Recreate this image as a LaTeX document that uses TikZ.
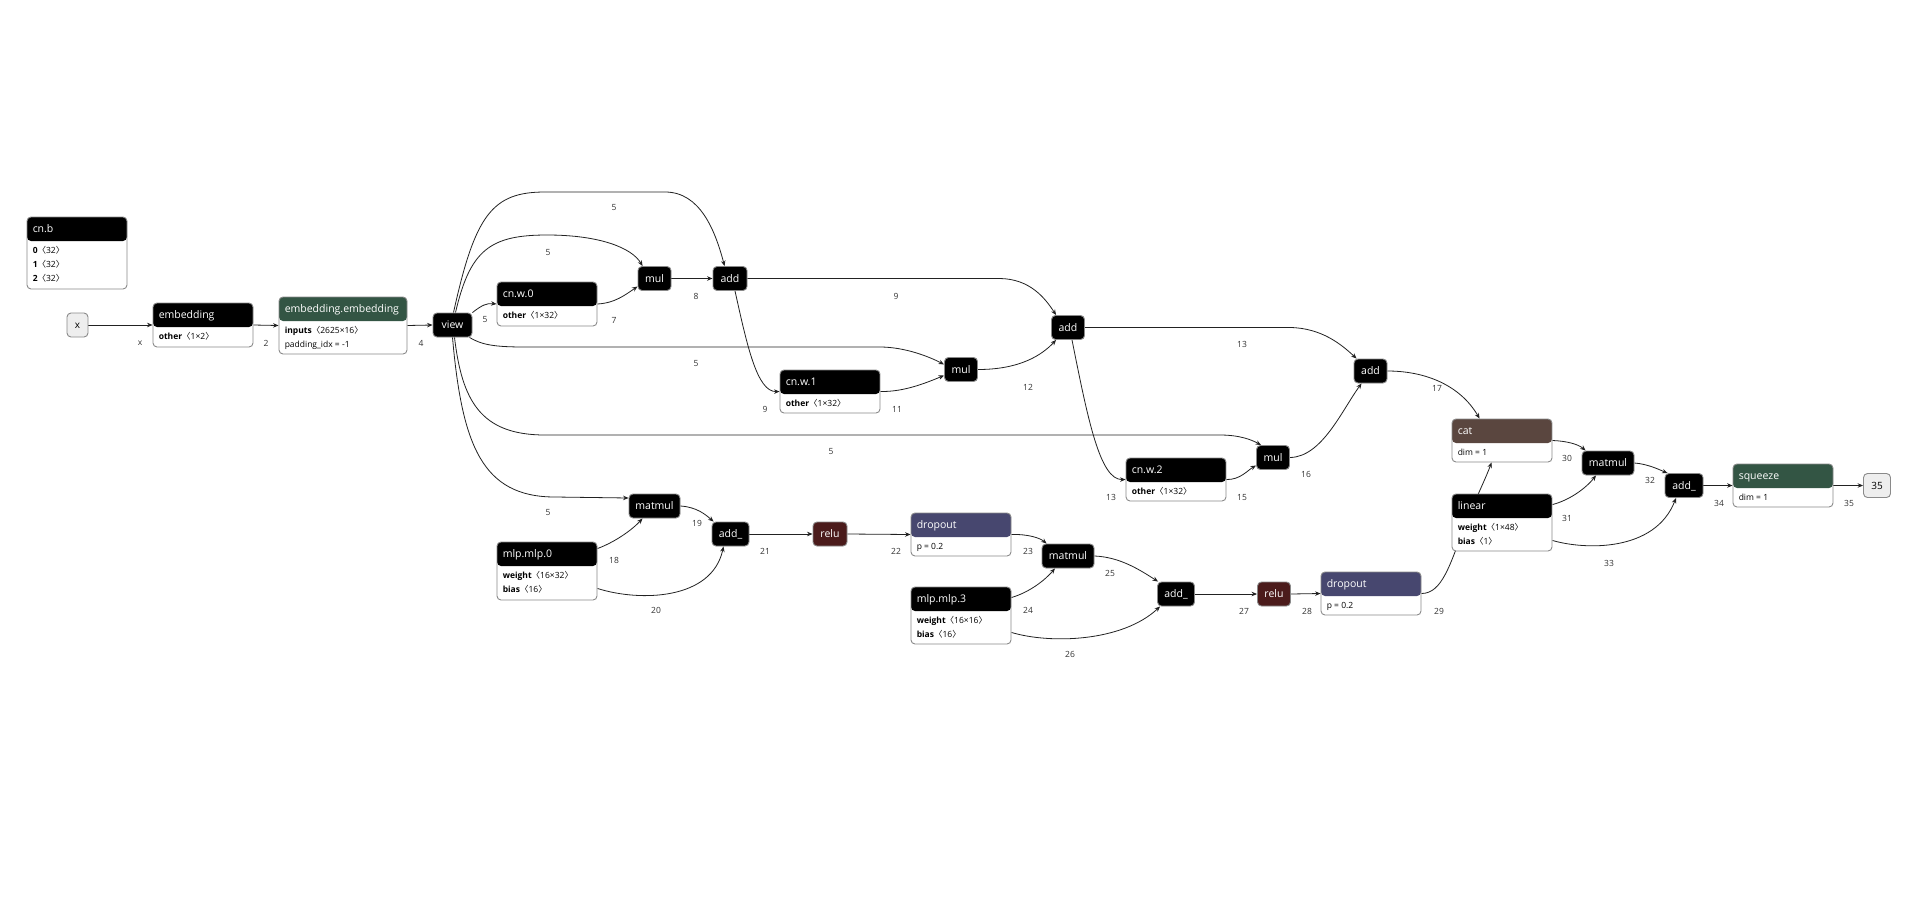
\documentclass[tikz,border=0pt]{standalone}
\usepackage{fontspec}
\setmainfont{Open Sans}
\newfontfamily\cjk{Noto Sans CJK SC}
\usetikzlibrary{arrows.meta,calc}
\pgfdeclarelayer{bg}
\pgfdeclarelayer{paper}
\pgfsetlayers{paper,bg,main}
\definecolor{bordergray}{HTML}{8A8A8A}
\definecolor{hdrgreen}{HTML}{335544}
\definecolor{hdrbrown}{HTML}{5A463F}
\definecolor{hdrpurple}{HTML}{47476F}
\definecolor{relucol}{HTML}{4B1B1B}
\definecolor{iocol}{HTML}{EEEEEE}
\definecolor{edgecol}{HTML}{222222}
\definecolor{lblcol}{HTML}{333333}
\newcommand\tbr[1]{{\cjk 〈}#1{\cjk 〉}}
\tikzset{
  pbox/.style={draw=bordergray, fill=white, rounded corners=4pt, line width=0.9pt, inner sep=0pt},
  hdr/.style={path picture={\fill[#1] (path picture bounding box.north west) rectangle ($(path picture bounding box.north east)+(0,24)$);}},
  ttl/.style={text=white, font=\fontsize{10.5}{12}\selectfont, inner sep=0pt},
  bdy/.style={text=black, font=\fontsize{8.5}{10}\selectfont, inner sep=0pt},
  op/.style={draw=bordergray, fill=#1, rounded corners=4pt, line width=0.9pt, text=white,
    font=\fontsize{10.5}{12}\selectfont, minimum height=24pt, inner sep=0pt,
    text height=7.6pt, text depth=0pt},
  io/.style={draw=bordergray, fill=iocol, rounded corners=4pt, line width=0.9pt, text=black,
    font=\fontsize{10}{12}\selectfont, minimum height=24pt, inner sep=0pt,
    text height=7.3pt, text depth=0pt},
  lbl/.style={text=lblcol, font=\fontsize{8.5}{10}\selectfont, inner sep=0pt},
  edge/.style={draw=edgecol, line width=0.8pt, -{Stealth[length=5.5pt,width=4.5pt]}},
}
% name, left, top, width, height, header colour, title, body lines
\newcommand\pb[8]{%
  \node[pbox, hdr=#6, minimum width=#4pt, minimum height=#5pt] (#1) at ({#2+#4/2},{#3+#5/2}) {};
  \node[ttl, anchor=base west] (#1-t) at ($(#1.north west)+(6,15.8)$) {#7};
  \foreach \ln [count=\i] in {#8} {
    \node[bdy, anchor=base west] (#1-b\i) at ($(#1.north west)+(6,{37+(\i-1)*14})$) {\ln};
  }
}
\begin{document}
\begin{tikzpicture}[x=1pt,y=-1pt]
\begin{pgfonlayer}{paper}
\fill[white] (0,0) rectangle (1910,910);
\end{pgfonlayer}
\useasboundingbox (0,0) rectangle (1910,910);

% parameter / module boxes
\pb{cnb}{27}{217}{100}{72}{black}{cn.b}{{\textbf{0}\tbr{32}},{\textbf{1}\tbr{32}},{\textbf{2}\tbr{32}}}
\pb{emb}{153}{303}{100}{44}{black}{embedding}{{\textbf{other}\tbr{1×2}}}
\pb{embemb}{279}{297}{128}{57}{hdrgreen}{embedding.embedding}{{\textbf{inputs}\tbr{2625×16}},{padding\_idx = -1}}
\pb{cnw0}{497}{282}{100}{44}{black}{cn.w.0}{{\textbf{other}\tbr{1×32}}}
\pb{cnw1}{780}{370}{100}{43}{black}{cn.w.1}{{\textbf{other}\tbr{1×32}}}
\pb{cnw2}{1126}{458}{100}{43}{black}{cn.w.2}{{\textbf{other}\tbr{1×32}}}
\pb{mlp0}{497}{542}{100}{58}{black}{mlp.mlp.0}{{\textbf{weight}\tbr{16×32}},{\textbf{bias}\tbr{16}}}
\pb{drop1}{911}{513}{100}{43}{hdrpurple}{dropout}{{p = 0.2}}
\pb{mlp3}{911}{587}{100}{57}{black}{mlp.mlp.3}{{\textbf{weight}\tbr{16×16}},{\textbf{bias}\tbr{16}}}
\pb{drop2}{1321}{572}{100}{43}{hdrpurple}{dropout}{{p = 0.2}}
\pb{cat}{1452}{419}{100}{43}{hdrbrown}{cat}{{dim = 1}}
\pb{lin}{1452}{494}{100}{57}{black}{linear}{{\textbf{weight}\tbr{1×48}},{\textbf{bias}\tbr{1}}}
\pb{sq}{1733}{464}{100}{43}{hdrgreen}{squeeze}{{dim = 1}}

% operator nodes
\node[io, minimum width=21pt] (xin) at (77.5,325) {x};
\node[op=black, minimum width=39pt] (view) at (452.5,325) {view};
\node[op=black, minimum width=33pt] (mul1) at (654.5,278.5) {mul};
\node[op=black, minimum width=34pt] (add1) at (730,278.5) {add};
\node[op=black, minimum width=33pt] (add2) at (1068,327.5) {add};
\node[op=black, minimum width=33pt] (mul2) at (961,369.5) {mul};
\node[op=black, minimum width=33pt] (add3) at (1370.5,371) {add};
\node[op=black, minimum width=33pt] (mul3) at (1273,457.5) {mul};
\node[op=black, minimum width=51pt] (matmul1) at (654.5,506) {matmul};
\node[op=black, minimum width=37pt] (addu1) at (730.5,534) {add\_};
\node[op=relucol, minimum width=34pt] (relu1) at (830,534) {relu};
\node[op=black, minimum width=52pt] (matmul2) at (1068,556) {matmul};
\node[op=black, minimum width=37pt] (addu2) at (1176,594) {add\_};
\node[op=relucol, minimum width=33pt] (relu2) at (1274,594) {relu};
\node[op=black, minimum width=52pt] (matmul3) at (1608,463) {matmul};
\node[op=black, minimum width=38pt] (addu3) at (1684,485.5) {add\_};
\node[io, minimum width=27pt] (out35) at (1877,485.5) {35};

% edges
\begin{pgfonlayer}{bg}
\draw[edge] (xin.east) -- (emb.west);
\draw[edge] (emb.east) -- (embemb.west);
\draw[edge] (embemb.east) -- (view.west);
\draw[edge] (view.north east) .. controls (482,305) and (487,303) .. (cnw0.west);
\draw[edge] ($(view.north)+(3,0)$) .. controls (470,250) and (490,235) .. (547,235) .. controls (600,235) and (632,248) .. ($(mul1.north west)+(5,0)$);
\draw[edge] ($(view.north)+(1,0)$) .. controls (475,215) and (492,192) .. (545,192) -- (665,192) .. controls (700,192) and (715,230) .. ($(add1.north west)+(12,0)$);
\draw[edge] (cnw0.east) .. controls (615,303) and (625,295) .. ($(mul1.west)+(0,8)$);
\draw[edge] (mul1.east) -- (add1.west);
\draw[edge] (add1.east) -- (1000,278.5) .. controls (1030,279) and (1045,298) .. ($(add2.north west)+(5,0)$);
\draw[edge] ($(add1.south)+(5,0)$) .. controls (747,345) and (757,392) .. (cnw1.west);
\draw[edge] (cnw1.east) .. controls (905,392) and (928,382) .. ($(mul2.west)+(0,6)$);
\draw[edge] ($(view.south east)+(-3,0)$) .. controls (482,345) and (495,347) .. (525,347) -- (880,347) .. controls (905,347) and (930,357) .. ($(mul2.west)+(0,-5)$);
\draw[edge] (mul2.east) .. controls (1020,369.5) and (1042,355) .. ($(add2.south west)+(5,0)$);
\draw[edge] (add2.east) -- (1290,327.5) .. controls (1322,328) and (1342,345) .. ($(add3.north west)+(3,0)$);
\draw[edge] ($(add2.south)+(4,0)$) .. controls (1088,420) and (1100,480) .. (cnw2.west);
\draw[edge] (cnw2.east) .. controls (1240,480) and (1248,470) .. ($(mul3.west)+(0,8)$);
\draw[edge] ($(view.south)+(2,0)$) .. controls (462,400) and (480,435) .. (545,435) -- (1220,435) .. controls (1240,435) and (1252,440) .. ($(mul3.north west)+(5,0)$);
\draw[edge] (mul3.east) .. controls (1322,457) and (1342,410) .. ($(add3.south west)+(8,0)$);
\draw[edge] (add3.east) .. controls (1425,371) and (1460,385) .. ($(cat.north west)+(28,0)$);
\draw[edge] (view.south) .. controls (462,445) and (482,497) .. (555,497) -- ($(matmul1.west)+(0,-8)$);
\draw[edge] ($(mlp0.north east)+(0,7)$) .. controls (615,542) and (632,530) .. ($(matmul1.south)+(-12,0)$);
\draw[edge] (matmul1.east) .. controls (697,507) and (706,515) .. ($(addu1.north west)+(2,0)$);
\draw[edge] ($(mlp0.south east)+(0,-12)$) .. controls (640,602) and (712,600) .. ($(addu1.south)+(-7,0)$);
\draw[edge] (addu1.east) -- (relu1.west);
\draw[edge] (relu1.east) -- (drop1.west);
\draw[edge] (drop1.east) .. controls (1028,534) and (1040,538) .. ($(matmul2.north west)+(5,0)$);
\draw[edge] ($(mlp3.north east)+(0,11)$) .. controls (1030,592) and (1045,580) .. ($(matmul2.south)+(-13,0)$);
\draw[edge] (matmul2.east) .. controls (1120,557) and (1140,570) .. ($(addu2.north west)+(1,0)$);
\draw[edge] ($(mlp3.south east)+(0,-12)$) .. controls (1050,644) and (1122,642) .. ($(addu2.south west)+(3,0)$);
\draw[edge] (addu2.east) -- (relu2.west);
\draw[edge] (relu2.east) -- (drop2.west);
\draw[edge] (drop2.east) .. controls (1442,593.5) and (1450,565) .. (1465,525) .. controls (1475,500) and (1485,480) .. ($(cat.south west)+(40,0)$);
\draw[edge] (cat.east) .. controls (1566,441) and (1578,444) .. ($(matmul3.north west)+(4,0)$);
\draw[edge] ($(lin.north east)+(0,11)$) .. controls (1570,500) and (1586,488) .. ($(matmul3.south)+(-12,0)$);
\draw[edge] (matmul3.east) .. controls (1648,464) and (1660,470) .. ($(addu3.north west)+(3,0)$);
\draw[edge] ($(lin.south east)+(0,-11)$) .. controls (1585,550) and (1655,552) .. ($(addu3.south)+(-8,0)$);
\draw[edge] (addu3.east) -- (sq.west);
\draw[edge] (sq.east) -- (out35.west);
\end{pgfonlayer}

% edge labels
\foreach \t/\px/\py [count=\k] in {
  x/140/343, 2/266/343, 4/421/343, 5/485/320, 5/548/253, 5/614/208, 7/614/320,
  8/696/296, 9/896/296, 5/696/364, 9/765/409, 11/897/409, 12/1028/387, 13/1242/344,
  13/1111/497, 15/1242/497, 16/1306/474, 5/831/452, 17/1437/388, 5/548/513, 18/614/560,
  19/697/523, 20/656/610, 21/765/551, 22/896/551, 23/1028/551, 24/1028/610, 25/1110/573,
  26/1070/654, 27/1244/611, 28/1307/611, 29/1439/611, 30/1567/458, 31/1567/518,
  32/1650/480, 33/1609/563, 34/1719/503, 35/1849/503} {
  \node[lbl] (lab\k) at (\px,\py) {\t};
}
\end{tikzpicture}
\end{document}
